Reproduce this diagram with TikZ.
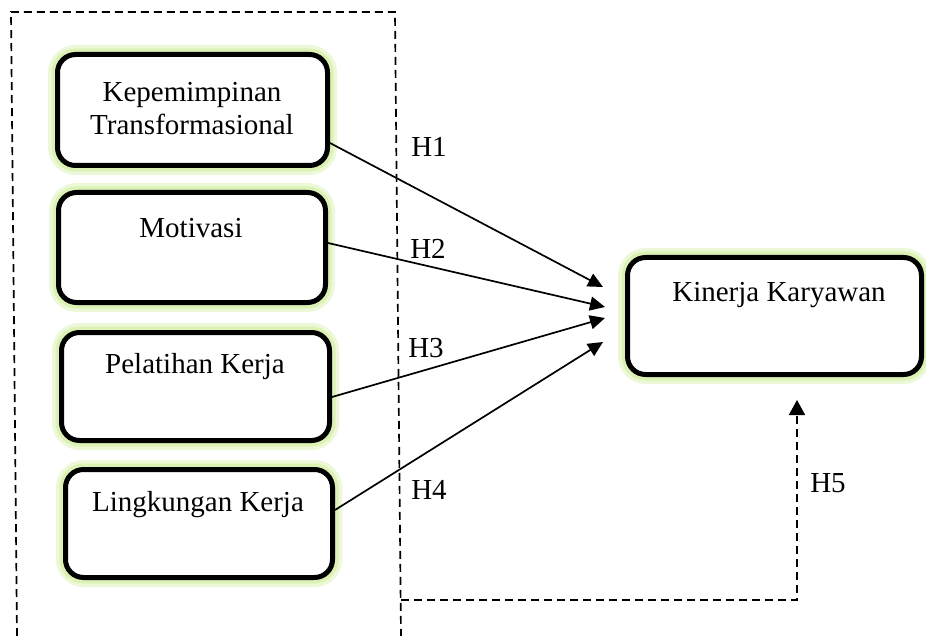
\documentclass[tikz,border=0pt]{standalone}
\usepackage{fontspec}
\setmainfont{Liberation Serif}
\usepackage{tikz}
\usetikzlibrary{arrows.meta}
\definecolor{glowgreen}{RGB}{214,240,168}

\begin{document}
\begin{tikzpicture}
	[x=1pt,y=-1pt,
	 varbox/.style={draw,line width=5pt,rounded corners=18pt,fill=white,inner sep=0pt,
	   preaction={draw=glowgreen!45,line width=19pt},
	   preaction={draw=glowgreen!85,line width=12pt}},
	 vartext/.style={font=\fontsize{29}{33}\selectfont,align=center,inner sep=0pt},
	 hlabel/.style={font=\fontsize{29}{33}\selectfont,inner sep=0pt},
	 dashline/.style={line width=1.7pt,dash pattern=on 8pt off 5pt},
	 hyparrow/.style={line width=1.7pt,-{Triangle[length=15pt,width=14pt]}}]
	\useasboundingbox (0,0) rectangle (926,636);
	
	% frame round the independent variables
	\draw[dashline] (17,636) -- (11,12) -- (395,12) -- (401,636);
	
	\node[varbox,minimum width=270pt,minimum height=111pt] (kt) at (192.5,110) {};
	\node[varbox,minimum width=267pt,minimum height=110pt] (mo) at (192,247.5) {};
	\node[varbox,minimum width=268pt,minimum height=108pt] (pk) at (195.5,386.5) {};
	\node[varbox,minimum width=267pt,minimum height=108pt] (lk) at (199,523.5) {};
	\node[varbox,minimum width=294pt,minimum height=117pt] (kk) at (774.5,316) {};
	
	\node[vartext] (ktt) at (192,108.5) {Kepemimpinan\\Transformasional};
	\node[vartext] (mot) at (191,228) {Motivasi};
	\node[vartext] (pkt) at (195,367) {Pelatihan Kerja};
	\node[vartext] (lkt) at (198,505) {Lingkungan Kerja};
	\node[vartext] (kkt) at (779,295) {Kinerja Karyawan};
	
	\coordinate (t1) at (603,287);
	\coordinate (t2) at (605,307);
	\coordinate (t3) at (605,318);
	\coordinate (t4) at (603,342);
	\coordinate (h5s) at (401,600);
	\coordinate (h5t) at (797,400);
	
	\draw[hyparrow] ([yshift=-33pt]kt.east) -- (t1);
	\draw[hyparrow] ([yshift=4.5pt]mo.east) -- (t2);
	\draw[hyparrow] ([yshift=-10.5pt]pk.east) -- (t3);
	\draw[hyparrow] ([yshift=13.5pt]lk.east) -- (t4);
	\draw[dashline,-{Triangle[length=15pt,width=16pt]}] (h5s) -| (h5t);
	
	\node[hlabel] (h1) at (429,147) {H1};
	\node[hlabel] (h2) at (428,249) {H2};
	\node[hlabel] (h3) at (426,348) {H3};
	\node[hlabel] (h4) at (429,490) {H4};
	\node[hlabel] (h5) at (828,483) {H5};
\end{tikzpicture}
\end{document}
